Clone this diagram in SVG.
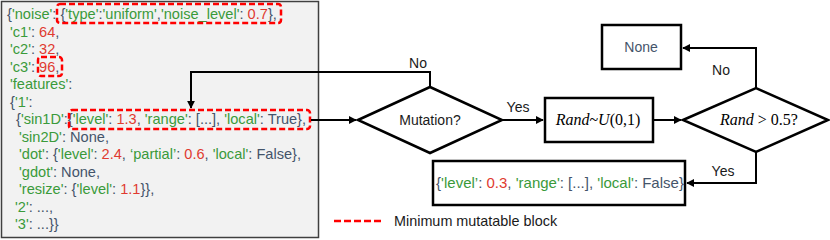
<svg xmlns="http://www.w3.org/2000/svg" width="830" height="240" viewBox="0 0 830 240">
<defs>
<marker id="arr" viewBox="0 0 10 10" refX="9" refY="5" markerWidth="4" markerHeight="4" orient="auto" markerUnits="strokeWidth">
<path d="M0,0 L10,5 L0,10 Z" fill="#000"/>
</marker>
<style>
.code{font-family:"Liberation Sans",Arial,sans-serif;font-size:14.6px;fill:#44546a}
.g{fill:#3a9a3a}
.r{fill:#e03a30}
.red{fill:none;stroke:#ff0000;stroke-width:2.5;stroke-dasharray:6 3}
.shape{fill:#fff;stroke:#000;stroke-width:2.5}
.lbl{font-family:"Liberation Sans",Arial,sans-serif;font-size:14px;fill:#1a1a1a}
.math{font-family:"Liberation Serif","Times New Roman",serif;font-size:16px;fill:#000}
.conn{fill:none;stroke:#000;stroke-width:2}
</style>
</defs>
<g id="config-panel">
<rect x="1.5" y="1.5" width="317" height="236" fill="#f2f2f2" stroke="#404040" stroke-width="1.5"/>
<text class="code" x="7" y="19">{<tspan class="g">'noise'</tspan>: {<tspan class="g">'type'</tspan>:<tspan class="g">'uniform'</tspan>,<tspan class="g">'noise_level'</tspan>: <tspan class="r">0.7</tspan>},</text>
<text class="code" x="10" y="36.5"><tspan class="g">'c1'</tspan>: <tspan class="r">64</tspan>,</text>
<text class="code" x="10" y="54"><tspan class="g">'c2'</tspan>: <tspan class="r">32</tspan>,</text>
<text class="code" x="10" y="71.5"><tspan class="g">'c3'</tspan>: <tspan class="r">96</tspan>,</text>
<text class="code" x="10" y="89"><tspan class="g">'features'</tspan>:</text>
<text class="code" x="10" y="106.5">{<tspan class="g">'1'</tspan>:</text>
<text class="code" x="16" y="124">{<tspan class="g">'sin1D'</tspan>:{<tspan class="g">'level'</tspan>: <tspan class="r">1.3</tspan>, <tspan class="g">'range'</tspan>: [...], <tspan class="g">'local'</tspan>: True},</text>
<text class="code" x="19" y="141.5"><tspan class="g">'sin2D'</tspan>: None,</text>
<text class="code" x="19" y="159"><tspan class="g">'dot'</tspan>: {<tspan class="g">'level'</tspan>: <tspan class="r">2.4</tspan>, <tspan class="g">‘partial’</tspan>: <tspan class="r">0.6</tspan>, <tspan class="g">'local'</tspan>: False},</text>
<text class="code" x="19" y="176.5"><tspan class="g">'gdot'</tspan>: None,</text>
<text class="code" x="19" y="194"><tspan class="g">'resize'</tspan>: {<tspan class="g">'level'</tspan>: <tspan class="r">1.1</tspan>}},</text>
<text class="code" x="15" y="211.5"><tspan class="g">'2'</tspan>: ...,</text>
<text class="code" x="15" y="229"><tspan class="g">'3'</tspan>: ...}}</text>
<rect class="red" x="57" y="4" width="224" height="19" rx="3"/>
<rect class="red" x="38" y="57" width="24" height="19" rx="3"/>
<rect class="red" x="69" y="110" width="241" height="19" rx="3"/>
</g>
<g id="mutation">
<polygon class="shape" points="358,120 430,87 502,120 430,153"/>
<text class="lbl" x="430" y="125" text-anchor="middle">Mutation?</text>
</g>
<g id="rand">
<rect class="shape" x="545" y="98" width="108" height="44"/>
<text class="math" x="598" y="125" text-anchor="middle"><tspan font-style="italic">Rand</tspan>~<tspan font-style="italic">U</tspan>(0,1)</text>
</g>
<g id="threshold">
<polygon class="shape" points="683,120 756,88 828,120 756,152"/>
<text class="math" x="759" y="125" text-anchor="middle"><tspan font-style="italic">Rand</tspan> &gt; 0.5?</text>
</g>
<g id="none">
<rect class="shape" x="602" y="25" width="79" height="44"/>
<text class="lbl" x="641" y="52" text-anchor="middle" style="fill:#44546a">None</text>
</g>
<g id="result">
<rect class="shape" x="433" y="161" width="252" height="44"/>
<text class="code" x="560" y="188" text-anchor="middle" style="font-size:15px">{<tspan class="g">'level’</tspan>: <tspan class="r">0.3</tspan>, <tspan class="g">'range'</tspan>: [...], <tspan class="g">'local'</tspan>: False}</text>
</g>
<g id="connectors">
<path class="conn" d="M311,120 H356" marker-end="url(#arr)"/>
<path class="conn" d="M430,87 V72 H191 V108" marker-end="url(#arr)"/>
<path class="conn" d="M502,120 H543" marker-end="url(#arr)"/>
<path class="conn" d="M653,120 H681" marker-end="url(#arr)"/>
<path class="conn" d="M756,88 V48 H683" marker-end="url(#arr)"/>
<path class="conn" d="M756,152 V183 H687" marker-end="url(#arr)"/>
<text class="lbl" x="418" y="68" text-anchor="middle">No</text>
<text class="lbl" x="518" y="112" text-anchor="middle">Yes</text>
<text class="lbl" x="721" y="75" text-anchor="middle">No</text>
<text class="lbl" x="723" y="176" text-anchor="middle">Yes</text>
</g>
<g id="legend">
<line x1="334" y1="221" x2="381" y2="221" stroke="#ff0000" stroke-width="2.5" stroke-dasharray="7 3"/>
<text class="lbl" x="394" y="226" style="font-size:14.4px">Minimum mutatable block</text>
</g>
</svg>
